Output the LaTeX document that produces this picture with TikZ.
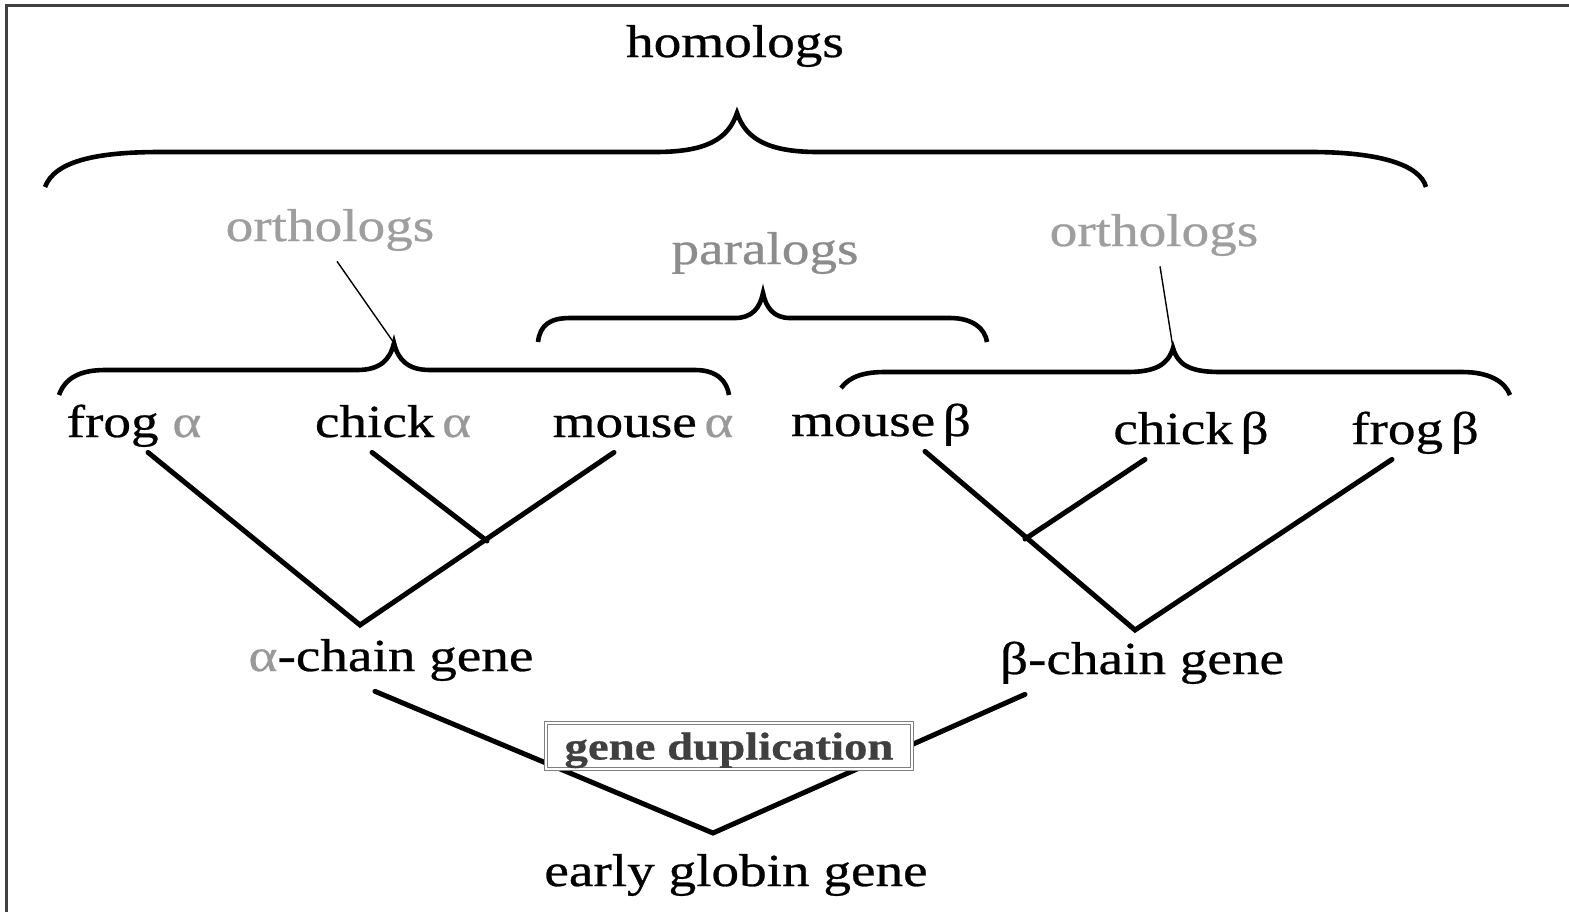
\documentclass[tikz,border=0pt]{standalone}
\usepackage{fontspec}
\setmainfont{Liberation Serif}[FakeStretch=1.2, FakeBold=0.6]
\definecolor{orthogray}{gray}{0.62}
\definecolor{paragray}{gray}{0.55}
\definecolor{alphagray}{gray}{0.6}
\definecolor{dupgray}{gray}{0.25}
\definecolor{boxgray}{gray}{0.5}
\definecolor{framegray}{gray}{0.25}

\begin{document}
\begin{tikzpicture}[x=0.5pt, y=-0.5pt,
    lbl/.style={anchor=base, inner sep=5pt, font=\fontsize{23}{28}\selectfont},
    leaf/.style={lbl, text depth=0.25em},
    branch/.style={line width=2.5pt, line cap=round},
    bracket/.style={line width=2.3pt},
    pointer/.style={line width=0.7pt},
    dupbox/.style={draw=boxgray, double=white, double distance=1.2pt, line width=0.6pt,
        fill=white, text=dupgray, font=\fontsize{19.5}{24}\selectfont\bfseries,
        minimum width=183pt, minimum height=23pt, inner sep=0pt, text depth=0pt}]
    \useasboundingbox (0,0) rectangle (1569,912);

    % frame
    \draw[line width=1.5pt, framegray] (6,912) -- (6,5) -- (1569,5);

    % group labels
    \node[lbl] (homologs) at (735,57) {homologs};
    \node[lbl, text=orthogray] (orthoL) at (330,241) {orthologs};
    \node[lbl, text=paragray] (paralogs) at (765,264) {paralogs};
    \node[lbl, text=orthogray] (orthoR) at (1154,246) {orthologs};

    % braces
    \draw[bracket] (45,187) .. controls (55,160) and (100,152) .. (160,152) -- (655,152)
        .. controls (705,152) and (728,140) .. (737,113)
        .. controls (746,140) and (770,152) .. (818,152) -- (1311,152)
        .. controls (1380,152) and (1420,165) .. (1426,187);
    \draw[bracket] (59,395) .. controls (65,378) and (80,370) .. (105,370) -- (357,370)
        .. controls (380,370) and (390,360) .. (394,343)
        .. controls (398,360) and (408,370) .. (430,370) -- (695,370)
        .. controls (718,370) and (727,382) .. (729,395);
    \draw[bracket] (538,342) .. controls (540,325) and (550,318) .. (570,318) -- (735,318)
        .. controls (752,318) and (760,308) .. (763,293)
        .. controls (766,308) and (774,318) .. (790,318) -- (950,318)
        .. controls (972,318) and (985,328) .. (987,342);
    \draw[bracket] (841,388) .. controls (850,376) and (865,372) .. (885,372) -- (1127,372)
        .. controls (1155,372) and (1168,365) .. (1173,348)
        .. controls (1178,365) and (1190,372) .. (1220,372) -- (1462,372)
        .. controls (1490,372) and (1505,382) .. (1510,395);

    % pointers to the ortholog braces
    \coordinate (tipL) at (394,343);
    \coordinate (tipR) at (1173,348);
    \draw[pointer] (orthoL.south -| 337,0) -- (tipL);
    \draw[pointer] (orthoR.south -| 1160,0) -- (tipR);

    % leaves
    \node[leaf] (frogA) at (134,437) {frog {\color{alphagray}α}};
    \node[leaf] (chickA) at (393,437) {chick\,{\color{alphagray}α}};
    \node[leaf] (mouseA) at (643,437) {mouse\,{\color{alphagray}α}};
    \node[leaf] (mouseB) at (881,436) {mouse\,β};
    \node[leaf] (chickB) at (1191,444) {chick\,β};
    \node[leaf] (frogB) at (1415,444) {frog\,β};

    % alpha tree
    \coordinate (aroot) at (360,625);
    \coordinate (ajoin) at (487,541);
    \draw[branch] (frogA.south -| 148,0) -- (aroot) -- (mouseA.south -| 614,0);
    \draw[branch] (chickA.south -| 372,0) -- (ajoin);

    % beta tree
    \coordinate (broot) at (1135,630);
    \coordinate (bjoin) at (1025,539);
    \draw[branch] (mouseB.south -| 925,0) -- (broot) -- (frogB.south -| 1392,0);
    \draw[branch] (chickB.south -| 1145,0) -- (bjoin);

    % chain genes
    \node[lbl] (achain) at (391,671) {{\color{alphagray}α}-chain gene};
    \node[lbl] (bchain) at (1142,674) {β-chain gene};

    % duplication
    \coordinate (groot) at (713,833);
    \draw[branch] (achain.south -| 375,0) -- (groot) -- (bchain.south -| 1025,0);
    \node[dupbox] (dup) at (729,746) {gene duplication};
    \node[lbl] (early) at (736,886) {early globin gene};
\end{tikzpicture}
\end{document}
